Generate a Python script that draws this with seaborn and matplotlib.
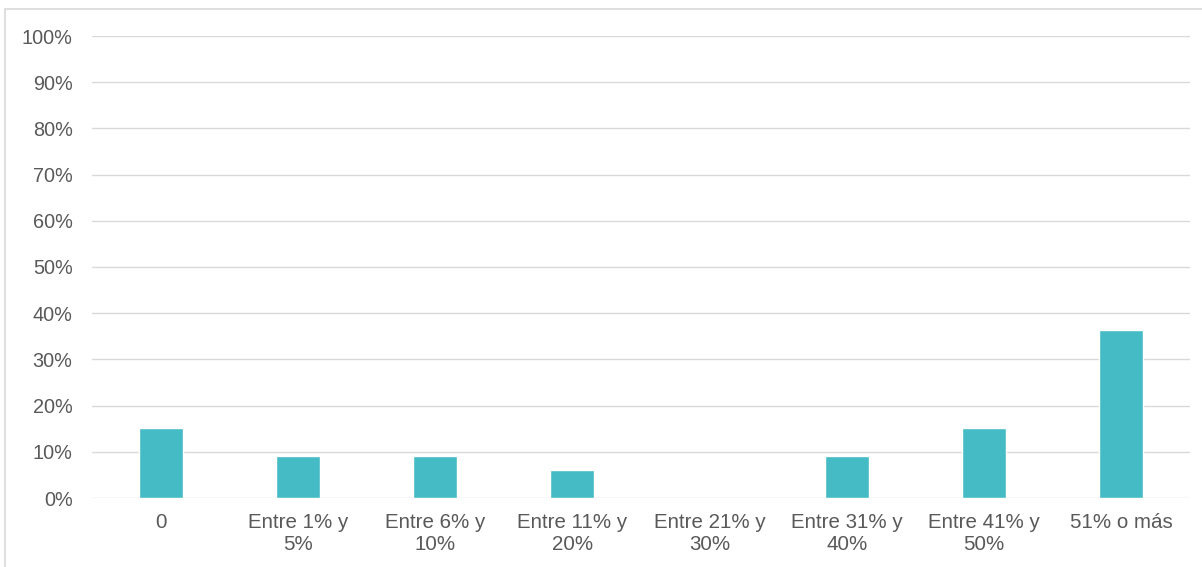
import numpy as np
import pandas as pd
import matplotlib
matplotlib.use("Agg")
import matplotlib.pyplot as plt
import matplotlib.patches as mpatches
from matplotlib.ticker import PercentFormatter
import seaborn as sns

# ──────────────────────────────────────────────
# Data
# ──────────────────────────────────────────────

categories = [
    "0", "Entre 1% y\n5%", "Entre 6% y\n10%", "Entre 11% y\n20%",
    "Entre 21% y\n30%", "Entre 31% y\n40%", "Entre 41% y\n50%", "51% o más",
]
shares = [15.15, 9.09, 9.09, 6.06, 0.0, 9.09, 15.15, 36.36]
y_ticks = list(range(0, 101, 10))

BAR_COLOR = "#45BBC5"
GRID_COLOR = "#D9D9D9"
TEXT_COLOR = "#595959"

sns.set_theme(style="white")
plt.rcParams["font.family"] = ["Liberation Sans", "DejaVu Sans"]

df = pd.DataFrame({"categoria": categories, "porcentaje": shares})

fig = plt.figure(figsize=(12.02, 5.67), dpi=100)
ax = fig.add_axes([92 / 1202, 69 / 567, (1190 - 92) / 1202, (498 - 36) / 567])

sns.barplot(data=df, x="categoria", y="porcentaje", color=BAR_COLOR,
            width=0.32, saturation=1, ax=ax, zorder=3)

ax.set_ylim(0, 100)
ax.set_xlim(-0.5, len(categories) - 0.5)
ax.set_yticks(y_ticks)
ax.yaxis.set_major_formatter(PercentFormatter(decimals=0))
ax.yaxis.grid(True, color=GRID_COLOR, lw=1, zorder=0)
ax.set_axisbelow(True)
for s in ax.spines.values():
    s.set_visible(False)
ax.set_xlabel("")
ax.set_ylabel("")
ax.tick_params(axis="y", length=0, labelsize=14.3, labelcolor=TEXT_COLOR, pad=14)
ax.tick_params(axis="x", length=0, labelsize=14.8, labelcolor=TEXT_COLOR, pad=11)
for lbl in ax.get_xticklabels():
    lbl.set_linespacing(1.2)

# outer light border of the chart area
fig.patches.append(mpatches.Rectangle(
    (5 / 1202, -0.05), 1.2, (567 - 9) / 567 + 0.05, transform=fig.transFigure,
    fill=False, edgecolor="#D9D9D9", lw=1.2))

fig.savefig("out.png", dpi=100)
